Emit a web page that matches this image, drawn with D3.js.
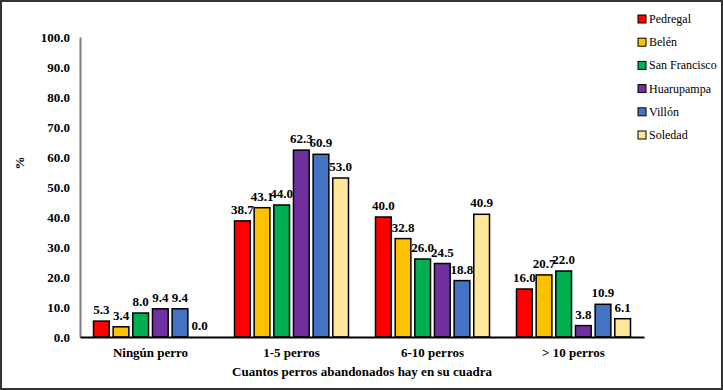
<!DOCTYPE html>
<html>
<head>
<meta charset="utf-8">
<script src="https://cdn.jsdelivr.net/npm/d3@7"></script>
<style>
  body { margin: 0; background: #fff; }
</style>
</head>
<body>
<script>
// categories and series
var categories = ["Ningún perro", "1-5 perros", "6-10 perros", "> 10 perros"];
var seriesNames = ["Pedregal", "Belén", "San Francisco", "Huarupampa", "Villón", "Soledad"];
var seriesColors = ["#ff0000", "#ffc000", "#00b050", "#7030a0", "#4472c4", "#ffe699"];
var pedregal = [5.3, 38.7, 40.0, 16.0];
var belen = [3.4, 43.1, 32.8, 20.7];
var sanFrancisco = [8.0, 44.0, 26.0, 22.0];
var huarupampa = [9.4, 62.3, 24.5, 3.8];
var villon = [9.4, 60.9, 18.8, 10.9];
var soledad = [0.0, 53.0, 40.9, 6.1];
var seriesValues = [pedregal, belen, sanFrancisco, huarupampa, villon, soledad];
var yTicks = [0, 10, 20, 30, 40, 50, 60, 70, 80, 90, 100];

const serif = "'Times New Roman', 'Liberation Serif', Tinos, 'DejaVu Serif', serif";
const canvWidth = 723, canvHeight = 390;
const margin = {top: 37, right: 79, bottom: 53, left: 80};
const width = canvWidth - margin.left - margin.right;
const height = canvHeight - margin.top - margin.bottom;

const svg = d3.select("body").append("svg")
    .attr("width", canvWidth)
    .attr("height", canvHeight)
    .attr("font-family", serif)
    .attr("font-weight", "bold");

// outer frame
svg.append("rect")
    .attr("x", 1).attr("y", 1)
    .attr("width", canvWidth - 2).attr("height", canvHeight - 2)
    .attr("fill", "none")
    .attr("stroke", "#333")
    .attr("stroke-width", 2);

const g = svg.append("g")
    .attr("transform", "translate(" + margin.left + "," + margin.top + ")");

var xScale = d3.scaleBand()
    .domain(categories)
    .range([0, width]);

var xInner = d3.scaleBand()
    .domain(seriesNames)
    .range([0, 114])
    .paddingInner(0.2);

var yScale = d3.scaleLinear()
    .domain([0, 100])
    .range([height, 0]);

// y axis
var yAxis = d3.axisLeft(yScale).tickValues(yTicks).tickFormat(d3.format(".1f")).tickSize(0).tickPadding(10);
var yG = g.append("g").call(yAxis)
    .attr("font-family", serif).attr("font-size", 13);
yG.select(".domain").attr("stroke", "#7f7f7f").attr("stroke-width", 2);

// bars
var groups = g.selectAll("g.cat")
    .data(categories)
    .enter().append("g")
    .attr("class", "cat")
    .attr("transform", d => "translate(" + (xScale(d) + xScale.bandwidth() / 2 - 57) + ",0)");

groups.each(function (cat, ci) {
    var grp = d3.select(this);
    var rows = seriesNames.map((s, si) => ({name: s, color: seriesColors[si], value: seriesValues[si][ci]}));
    grp.selectAll("rect")
        .data(rows.filter(r => r.value > 0))
        .enter().append("rect")
        .attr("x", d => xInner(d.name))
        .attr("y", d => yScale(d.value))
        .attr("width", xInner.bandwidth())
        .attr("height", d => height - yScale(d.value))
        .attr("fill", d => d.color)
        .attr("stroke", "#000")
        .attr("stroke-width", 1.5);
    grp.selectAll("text.val")
        .data(rows)
        .enter().append("text")
        .attr("class", "val")
        .attr("x", d => xInner(d.name) + xInner.bandwidth() / 2)
        .attr("y", d => yScale(d.value) - 7)
        .attr("text-anchor", "middle")
        .attr("font-size", 13)
        .text(d => d3.format(".1f")(d.value));
});

// x axis
var xAxis = d3.axisBottom(xScale).tickSize(0).tickPadding(11);
var xG = g.append("g")
    .attr("transform", "translate(0," + height + ")")
    .call(xAxis)
    .attr("font-family", serif).attr("font-size", 13);
xG.select(".domain").attr("stroke", "#000").attr("stroke-width", 2);

// axis titles
svg.append("text")
    .attr("x", margin.left + width / 2)
    .attr("y", 376)
    .attr("text-anchor", "middle")
    .attr("font-size", 13)
    .text("Cuantos perros abandonados hay en su cuadra");

svg.append("text")
    .attr("transform", "translate(24,163) rotate(-90)")
    .attr("text-anchor", "middle")
    .attr("font-size", 13)
    .text("%");

// legend
var legend = svg.selectAll("g.legend")
    .data(seriesNames)
    .enter().append("g")
    .attr("class", "legend")
    .attr("transform", (d, i) => "translate(638," + (19 + i * 23.2) + ")");

legend.append("rect")
    .attr("x", 0).attr("y", -4)
    .attr("width", 8).attr("height", 8)
    .attr("fill", (d, i) => seriesColors[i])
    .attr("stroke", "#000")
    .attr("stroke-width", 1);

legend.append("text")
    .attr("x", 11)
    .attr("y", 4)
    .attr("font-size", 12)
    .attr("font-weight", "normal")
    .text(d => d);
</script>
</body>
</html>
